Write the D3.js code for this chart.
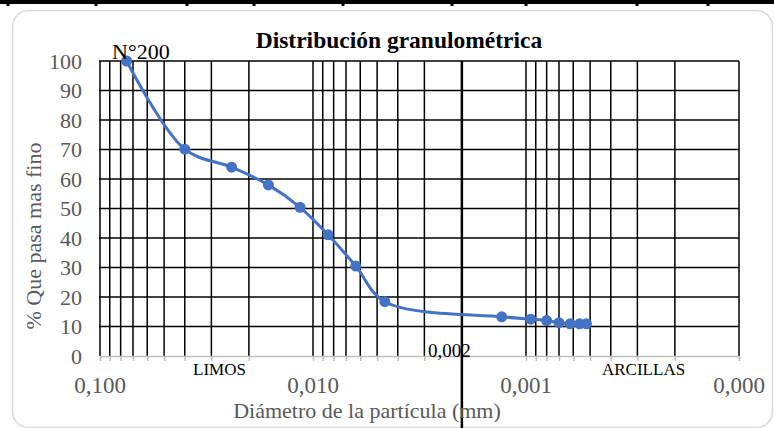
<!DOCTYPE html>
<html>
<head>
<meta charset="utf-8">
<script src="https://cdn.jsdelivr.net/npm/d3@7"></script>
<style>
  body { margin: 0; background: #fff; }
  svg { display: block; font-family: "Liberation Serif", "Times New Roman", serif; }
</style>
</head>
<body>
<div id="chart"></div>
<script>
// diámetro (mm) y % que pasa
var diametros = [0.075, 0.04, 0.0241, 0.0162, 0.0115, 0.0085, 0.0063, 0.0046, 0.0013, 0.00095, 0.0008, 0.0007, 0.00062, 0.00056, 0.00052];
var pasa = [100, 70.1, 64.0, 58.0, 50.4, 41.1, 30.5, 18.4, 13.3, 12.5, 12.0, 11.3, 10.9, 10.9, 10.9];
var xLabels = [0.1, 0.01, 0.001, 0.0001];
var yTicks = [0, 10, 20, 30, 40, 50, 60, 70, 80, 90, 100];
var limite = 0.002;
// separadores de la tabla de arriba (decoración)
var tablaCols = [8, 96, 187, 254, 343, 452, 526, 637, 708];

var W = 774, H = 428;
var margin = {top: 61, right: 35, bottom: 72, left: 100},
    width = W - margin.left - margin.right,
    height = H - margin.top - margin.bottom;

var svg = d3.select("#chart").append("svg")
    .attr("width", W)
    .attr("height", H);

// trozo de tabla arriba
svg.append("rect").attr("x", 0).attr("y", 0).attr("width", W).attr("height", 4).attr("fill", "#000");
svg.selectAll(".col").data(tablaCols).enter().append("rect")
    .attr("x", function (d) { return d - 1.5; })
    .attr("y", 0).attr("width", 3).attr("height", 6).attr("fill", "#000");

// borde del gráfico
svg.append("rect")
    .attr("x", 12.5).attr("y", 10.5)
    .attr("width", 760).attr("height", 417)
    .attr("rx", 16)
    .attr("fill", "#fff")
    .attr("stroke", "#d9d9d9")
    .attr("stroke-width", 1.5);

var g = svg.append("g")
    .attr("transform", "translate(" + margin.left + "," + margin.top + ")");

var x = d3.scaleLog()
    .domain([0.1, 0.0001])
    .range([0, width]);

var y = d3.scaleLinear()
    .domain([0, 100])
    .range([height, 0]);

var loc = d3.formatLocale({decimal: ",", thousands: ".", grouping: [3], currency: ["", ""]});
var fmt = loc.format(".3f");

var xGrid = x.ticks();

// rejilla horizontal
g.append("g").selectAll("line")
    .data(yTicks.filter(function (d) { return d > 0; }))
    .enter().append("line")
    .attr("x1", -1).attr("x2", width)
    .attr("y1", function (d) { return y(d); })
    .attr("y2", function (d) { return y(d); })
    .attr("stroke", "#000")
    .attr("stroke-width", 1.5);

// rejilla vertical
g.append("g").selectAll("line")
    .data(xGrid)
    .enter().append("line")
    .attr("x1", function (d) { return x(d); })
    .attr("x2", function (d) { return x(d); })
    .attr("y1", 0).attr("y2", height)
    .attr("stroke", "#000")
    .attr("stroke-width", 1.5);

// eje x
var xAxis = g.append("g")
    .attr("transform", "translate(0," + height + ")")
    .call(d3.axisBottom(x).tickValues(xGrid).tickSize(5).tickFormat(""));
xAxis.select(".domain").attr("stroke", "#bfbfbf").attr("stroke-width", 1.5);
xAxis.selectAll(".tick line").attr("stroke", "#bfbfbf").attr("stroke-width", 1.5);

g.append("g").selectAll("text")
    .data(xLabels)
    .enter().append("text")
    .attr("x", function (d) { return x(d); })
    .attr("y", height + 37)
    .attr("text-anchor", "middle")
    .attr("font-size", 23)
    .attr("fill", "#595959")
    .text(function (d) { return fmt(d); });

// eje y (solo etiquetas)
g.append("g").selectAll("text")
    .data(yTicks)
    .enter().append("text")
    .attr("x", -18)
    .attr("y", function (d) { return y(d); })
    .attr("dy", "0.35em")
    .attr("text-anchor", "end")
    .attr("font-size", 22)
    .attr("fill", "#595959")
    .text(function (d) { return d; });

// línea 0,002
g.append("line")
    .attr("x1", x(limite)).attr("x2", x(limite))
    .attr("y1", 0).attr("y2", H - margin.top)
    .attr("stroke", "#000")
    .attr("stroke-width", 2.5);
g.append("text")
    .attr("x", x(limite) - 34)
    .attr("y", height + 1)
    .attr("font-size", 19)
    .attr("fill", "#000")
    .text(fmt(limite));

// curva
var pts = diametros.map(function (d, i) { return [d, pasa[i]]; });
var line = d3.line()
    .x(function (d) { return x(d[0]); })
    .y(function (d) { return y(d[1]); })
    .curve(d3.curveCatmullRom.alpha(0.5));

g.append("path")
    .datum(pts)
    .attr("fill", "none")
    .attr("stroke", "#4472c4")
    .attr("stroke-width", 3)
    .attr("d", line);

g.selectAll(".pt")
    .data(pts)
    .enter().append("circle")
    .attr("cx", function (d) { return x(d[0]); })
    .attr("cy", function (d) { return y(d[1]); })
    .attr("r", 5.5)
    .attr("fill", "#4472c4");

// textos
svg.append("text")
    .attr("x", 399).attr("y", 48)
    .attr("text-anchor", "middle")
    .attr("font-size", 23.5)
    .attr("font-weight", "bold")
    .text("Distribución granulométrica");

svg.append("text")
    .attr("x", 112).attr("y", 59)
    .attr("font-size", 22)
    .text("N°200");

svg.append("text")
    .attr("x", 193).attr("y", 375)
    .attr("font-size", 17)
    .text("LIMOS");

svg.append("text")
    .attr("x", 602).attr("y", 375)
    .attr("font-size", 17)
    .text("ARCILLAS");

svg.append("text")
    .attr("x", 367).attr("y", 418)
    .attr("text-anchor", "middle")
    .attr("font-size", 22)
    .attr("fill", "#595959")
    .text("Diámetro de la partícula (mm)");

svg.append("text")
    .attr("transform", "translate(41,236) rotate(-90)")
    .attr("text-anchor", "middle")
    .attr("font-size", 22)
    .attr("fill", "#595959")
    .text("% Que pasa mas fino");
</script>
</body>
</html>
